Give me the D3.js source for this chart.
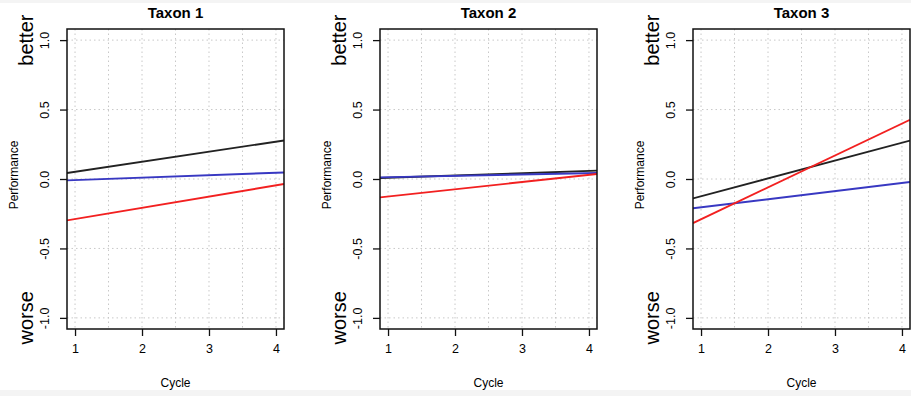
<!DOCTYPE html>
<meta charset="utf-8">
<head>
  <title>Performance by cycle</title>
  <style>
    body { margin: 0; background: #f4f4f4; }
    text { font-family: "Liberation Sans", Arial, Helvetica, sans-serif; fill: #000; }
  </style>
</head>
<body>
<script src="https://cdn.jsdelivr.net/npm/d3@7"></script>
<script>
var WIDTH = 911,
    HEIGHT = 396;

// chart data
var taxa = ["Taxon 1", "Taxon 2", "Taxon 3"];
var cycleTicks = [1, 2, 3, 4];
var cycleGrid = [1, 1.5, 2, 2.5, 3, 3.5, 4];
var perfTicks = [-1, -0.5, 0, 0.5, 1];
var perfLabels = ["-1.0", "-0.5", "0.0", "0.5", "1.0"];
var fitCycles = [1, 4];
// fitted performance at cycle 1 and cycle 4, one pair per taxon
var blackFit = [[0.052, 0.269], [0.009, 0.058], [-0.124, 0.261]];
var blueFit  = [[-0.008, 0.045], [0.013, 0.042], [-0.204, -0.029]];
var redFit   = [[-0.288, -0.046], [-0.126, 0.030], [-0.290, 0.399]];

var series = [
  {name: "black", color: "#222222", fits: blackFit},
  {name: "blue", color: "#3838c2", fits: blueFit},
  {name: "red", color: "#f22020", fits: redFit}
];

var PANEL_STEP = 313,
    BOX_LEFT = 67,
    BOX_W = 217,
    BOX_TOP = 29,
    BOX_BOTTOM = 329;

var svg = d3.select("body").append("svg")
    .attr("width", WIDTH)
    .attr("height", HEIGHT)
    .style("display", "block");

svg.append("rect")
    .attr("x", 0).attr("y", 3)
    .attr("width", WIDTH).attr("height", 387)
    .attr("fill", "#fff");

var x = d3.scaleLinear().domain([0.88, 4.12]).range([BOX_LEFT, BOX_LEFT + BOX_W]);
var y = d3.scaleLinear().domain([-1.08, 1.08]).range([BOX_BOTTOM, BOX_TOP]);

var defs = svg.append("defs");
defs.append("clipPath").attr("id", "box")
  .append("rect")
    .attr("x", BOX_LEFT).attr("y", BOX_TOP)
    .attr("width", BOX_W).attr("height", BOX_BOTTOM - BOX_TOP);

taxa.forEach(function(taxon, i) {
  var g = svg.append("g").attr("transform", "translate(" + (i * PANEL_STEP) + ",0)");

  // grid
  g.append("g").selectAll("line").data(cycleGrid).enter().append("line")
      .attr("x1", function(d) { return x(d); })
      .attr("x2", function(d) { return x(d); })
      .attr("y1", BOX_TOP).attr("y2", BOX_BOTTOM)
      .attr("stroke", "#c8c8c8").attr("stroke-width", 1)
      .attr("stroke-dasharray", "1.5,3");
  g.append("g").selectAll("line").data(perfTicks).enter().append("line")
      .attr("y1", function(d) { return y(d); })
      .attr("y2", function(d) { return y(d); })
      .attr("x1", BOX_LEFT).attr("x2", BOX_LEFT + BOX_W)
      .attr("stroke", "#c8c8c8").attr("stroke-width", 1)
      .attr("stroke-dasharray", "1.5,3");

  // fitted lines, drawn across the whole box like abline
  var lines = g.append("g").attr("clip-path", "url(#box)");
  series.forEach(function(s) {
    var fit = d3.scaleLinear().domain(fitCycles).range(s.fits[i]);
    var ends = x.domain();
    lines.append("line")
        .attr("x1", x(ends[0])).attr("y1", y(fit(ends[0])))
        .attr("x2", x(ends[1])).attr("y2", y(fit(ends[1])))
        .attr("stroke", s.color).attr("stroke-width", 1.9);
  });

  // box
  g.append("rect")
      .attr("x", BOX_LEFT).attr("y", BOX_TOP)
      .attr("width", BOX_W).attr("height", BOX_BOTTOM - BOX_TOP)
      .attr("fill", "none").attr("stroke", "#111").attr("stroke-width", 1.5);

  // x axis
  var xAxis = g.append("g")
      .attr("transform", "translate(0," + BOX_BOTTOM + ")")
      .call(d3.axisBottom(x).tickValues(cycleTicks).tickFormat(d3.format("d"))
        .tickSize(7).tickPadding(8));
  xAxis.select(".domain").remove();
  xAxis.selectAll(".tick line").attr("stroke", "#111").attr("stroke-width", 1.3);
  xAxis.selectAll(".tick text")
      .style("font-family", "Liberation Sans, Arial, sans-serif")
      .style("font-size", "12.5px").attr("fill", "#000");

  // y axis
  var yAxis = g.append("g")
      .attr("transform", "translate(" + BOX_LEFT + ",0)")
      .call(d3.axisLeft(y).tickValues(perfTicks)
        .tickFormat(function(d, k) { return perfLabels[k]; }).tickSize(7));
  yAxis.select(".domain").remove();
  yAxis.selectAll(".tick line").attr("stroke", "#111").attr("stroke-width", 1.3);
  yAxis.selectAll(".tick text")
      .attr("x", null).attr("dy", null)
      .attr("transform", "translate(-18.5,0) rotate(-90)")
      .attr("text-anchor", "middle")
      .style("font-family", "Liberation Sans, Arial, sans-serif")
      .style("font-size", "12.5px").attr("fill", "#000");

  // title
  g.append("text")
      .attr("x", BOX_LEFT + BOX_W / 2).attr("y", 18)
      .attr("text-anchor", "middle")
      .style("font-size", "15px").style("font-weight", "bold")
      .text(taxon);

  // axis titles
  g.append("text")
      .attr("x", BOX_LEFT + BOX_W / 2).attr("y", 387)
      .attr("text-anchor", "middle")
      .style("font-size", "12px")
      .text("Cycle");
  g.append("text")
      .attr("transform", "translate(" + (BOX_LEFT - 49) + "," + (y(0) - 4) + ") rotate(-90)")
      .attr("text-anchor", "middle")
      .style("font-size", "12px")
      .text("Performance");

  g.append("text")
      .attr("transform", "translate(" + (BOX_LEFT - 34) + "," + y(1) + ") rotate(-90)")
      .attr("text-anchor", "middle")
      .style("font-size", "20px")
      .text("better");
  g.append("text")
      .attr("transform", "translate(" + (BOX_LEFT - 34) + "," + y(-1) + ") rotate(-90)")
      .attr("text-anchor", "middle")
      .style("font-size", "20px")
      .text("worse");
});
</script>
</body>
